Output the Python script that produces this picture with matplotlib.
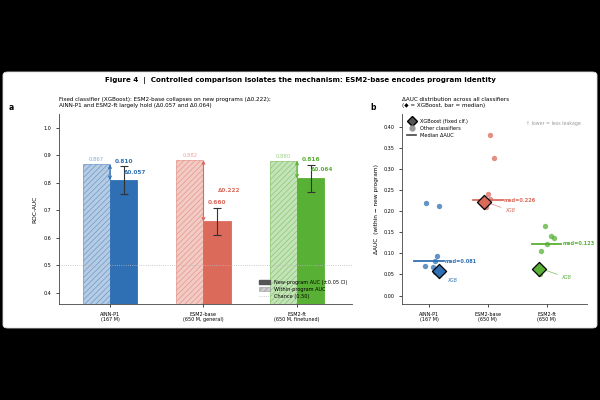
import matplotlib
matplotlib.use("Agg")
import matplotlib.pyplot as plt
from matplotlib.patches import FancyBboxPatch, Patch
from matplotlib.lines import Line2D
from matplotlib.colors import to_rgba

# data
models = ["AINN-P1\n(167 M)", "ESM2-base\n(650 M, general)", "ESM2-ft\n(650 M, finetuned)"]
models_b = ["AINN-P1\n(167 M)", "ESM2-base\n(650 M)", "ESM2-ft\n(650 M)"]
colors = ["#2f6fb3", "#db6a5b", "#58b035"]
within_auc = [0.867, 0.882, 0.880]
new_auc = [0.810, 0.660, 0.816]
ci = [0.05, 0.05, 0.05]
delta_xgb = [0.057, 0.222, 0.064]

# other classifiers (value, jitter offset)
other_vals = [
    [0.219, 0.212, 0.093, 0.081, 0.070, 0.067, 0.055],
    [0.381, 0.325, 0.240, 0.228, 0.209],
    [0.164, 0.141, 0.136, 0.123, 0.106, 0.052],
]
other_offs = [
    [-0.05, 0.17, 0.14, 0.10, -0.07, 0.06, 0.10],
    [0.03, 0.10, 0.00, 0.04, -0.03],
    [-0.03, 0.08, 0.13, 0.00, -0.10, -0.12],
]
xgb_offs = [0.17, -0.07, -0.14]
xgb_label_dx = [0.14, 0.36, 0.39]
medians = [0.081, 0.226, 0.123]

plt.rcParams['font.family'] = ['DejaVu Sans']
fig = plt.figure(figsize=(6, 4), dpi=100, facecolor="black")
card = FancyBboxPatch((0.005, 0.18), 0.99, 0.64, boxstyle="round,pad=0,rounding_size=0.008",
                      transform=fig.transFigure, facecolor="white", edgecolor="#dddddd", lw=0.6,
                      zorder=-10)
fig.patches.append(card)

fig.text(0.5, 0.80, "Figure 4  |  Controlled comparison isolates the mechanism: ESM2-base encodes program identity",
         ha="center", va="center", fontsize=5.1, fontweight="bold")

plt.rcParams['hatch.linewidth'] = 0.5

# ---- panel a
ax = fig.add_axes([0.098, 0.24, 0.489, 0.475])
ax.patch.set_alpha(0)
w = 0.29
for i in range(3):
    c = colors[i]
    ax.bar(i - w / 2, within_auc[i], w, facecolor=to_rgba(c, 0.35), edgecolor=to_rgba(c, 0.55),
           hatch="//////", lw=0.6)
    ax.bar(i + w / 2, new_auc[i], w, color=c, edgecolor=to_rgba(c, 1), lw=0.6)
    ax.errorbar(i + w / 2, new_auc[i], yerr=ci[i], fmt="none", ecolor="#333333", elinewidth=0.8,
                capsize=3, capthick=0.8)
    ax.text(i - w / 2, within_auc[i] + 0.008, f"{within_auc[i]:.3f}", ha="center", va="bottom",
            fontsize=3.8, color=to_rgba(c, 0.6))
    ax.text(i + w / 2, new_auc[i] + ci[i] + 0.01, f"{new_auc[i]:.3f}", ha="center", va="bottom",
            fontsize=4.2, color=c, fontweight="bold")
    ax.annotate("", xy=(i, new_auc[i]), xytext=(i, within_auc[i]),
                arrowprops=dict(arrowstyle="<->", color=c, lw=0.8, shrinkA=0, shrinkB=0,
                                mutation_scale=5))
    ax.text(i + 0.15, (within_auc[i] + new_auc[i]) / 2, f"Δ{within_auc[i] - new_auc[i]:.3f}",
            ha="left", va="center", fontsize=4.1, color=c, fontweight="bold")
ax.axhline(0.5, color="#bbbbbb", ls=":", lw=0.6)
ax.set_xlim(-0.547, 2.59)
ax.set_ylim(0.36, 1.05)
ax.set_xticks(range(3))
ax.set_xticklabels(models, fontsize=3.8)
ax.set_yticks([0.4, 0.5, 0.6, 0.7, 0.8, 0.9, 1.0])
ax.set_yticklabels(["0.4", "0.5", "0.6", "0.7", "0.8", "0.9", "1.0"])
ax.tick_params(labelsize=3.5, length=2, width=0.5)
ax.set_ylabel("ROC-AUC", fontsize=4.2, labelpad=4)
for s in ["top", "right"]:
    ax.spines[s].set_visible(False)
for s in ["left", "bottom"]:
    ax.spines[s].set_linewidth(0.6)
    ax.spines[s].set_color("#444444")
ax.set_title("Fixed classifier (XGBoost): ESM2-base collapses on new programs (Δ0.222);\n"
             "AINN-P1 and ESM2-ft largely hold (Δ0.057 and Δ0.064)", loc="left", fontsize=4.1, pad=5)
hand_a = [Patch(facecolor="#555555", edgecolor="#555555"),
          Patch(facecolor="#cccccc", edgecolor="#999999", hatch="//////", lw=0.4),
          Line2D([], [], color="#bbbbbb", ls=":", lw=0.6)]
ax.legend(hand_a, ["New-program AUC (±0.05 CI)", "Within-program AUC", "Chance (0.50)"],
          loc="lower right", fontsize=3.6, frameon=False, handlelength=2.2, handleheight=0.8,
          borderaxespad=0.6, labelspacing=0.4)
fig.text(0.014, 0.73, "a", fontsize=5.5, fontweight="bold", va="center")

# ---- panel b
bx = fig.add_axes([0.67, 0.24, 0.308, 0.475])
bx.patch.set_alpha(0)
for i in range(3):
    c = colors[i]
    bx.scatter([i + o for o in other_offs[i]], other_vals[i], s=15, color=c, alpha=0.75, lw=0, zorder=2)
    bx.plot([i - 0.25, i + 0.25], [medians[i], medians[i]], color=c, lw=1.3, zorder=3)
    bx.text(i + 0.27, medians[i], f"med={medians[i]:.3f}", ha="left", va="center", fontsize=3.6,
            color=c, fontweight="bold")
    bx.scatter(i + xgb_offs[i], delta_xgb[i], s=52, marker="D", color=c, edgecolor="black", lw=0.9, zorder=4)
    bx.annotate("XGB", xy=(i + xgb_offs[i] + 0.07, delta_xgb[i] - 0.002),
                xytext=(i + xgb_offs[i] + xgb_label_dx[i], delta_xgb[i] - 0.021), fontsize=3.3, color=c,
                style="italic", va="center", ha="left",
                arrowprops=dict(arrowstyle="-", color=c, lw=0.5, alpha=0.8, shrinkA=1, shrinkB=2))
bx.set_xlim(-0.46, 2.68)
bx.set_ylim(-0.02, 0.43)
bx.set_xticks(range(3))
bx.set_xticklabels(models_b, fontsize=3.8)
bx.set_yticks([0.0, 0.05, 0.10, 0.15, 0.20, 0.25, 0.30, 0.35, 0.40])
bx.set_yticklabels([f"{v:.2f}" for v in [0.0, 0.05, 0.10, 0.15, 0.20, 0.25, 0.30, 0.35, 0.40]])
bx.tick_params(labelsize=3.5, length=2, width=0.5)
bx.set_ylabel("ΔAUC  (within − new program)", fontsize=4.2, labelpad=3)
for s in ["top", "right"]:
    bx.spines[s].set_visible(False)
for s in ["left", "bottom"]:
    bx.spines[s].set_linewidth(0.6)
    bx.spines[s].set_color("#444444")
bx.set_title("ΔAUC distribution across all classifiers\n(◆ = XGBoost, bar = median)",
             loc="left", fontsize=4.1, pad=5)
bx.text(0.97, 0.95, "↑ lower = less leakage", transform=bx.transAxes, ha="right", va="center",
        fontsize=3.4, color="#999999")
hand_b = [Line2D([], [], marker="D", color="#555555", markeredgecolor="black", ls="none", markersize=5),
          Line2D([], [], marker="o", color="#999999", ls="none", markersize=3.5),
          Line2D([], [], color="#444444", lw=1.2)]
bx.legend(hand_b, ["XGBoost (fixed clf.)", "Other classifiers", "Median ΔAUC"], loc="upper left",
          fontsize=3.6, frameon=False, handlelength=1.8, labelspacing=0.4, borderaxespad=0.6)
fig.text(0.618, 0.73, "b", fontsize=5.5, fontweight="bold", va="center")

fig.savefig("out.png", dpi=100, facecolor="black")
